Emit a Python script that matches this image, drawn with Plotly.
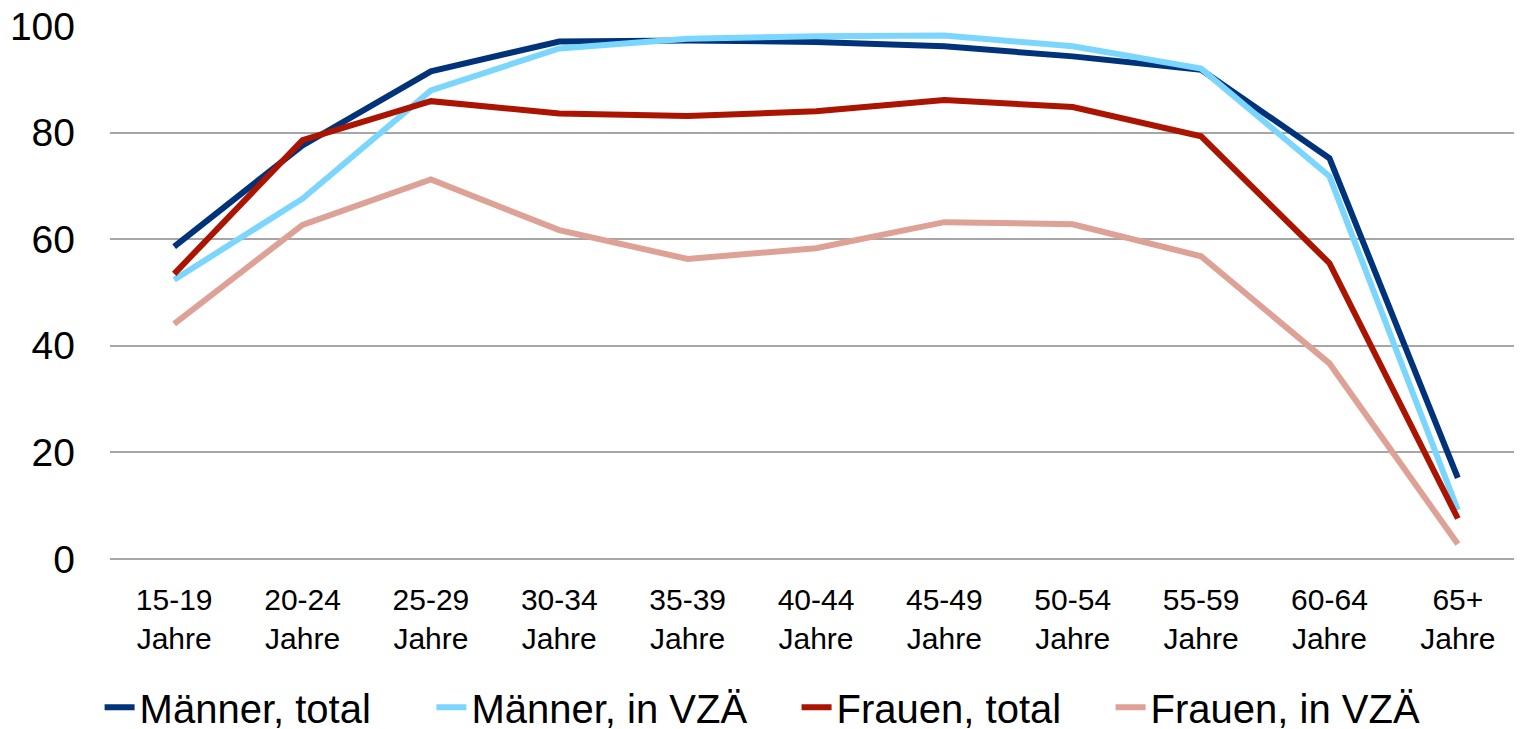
import plotly.graph_objects as go

categories = ["15-19<br>Jahre", "20-24<br>Jahre", "25-29<br>Jahre", "30-34<br>Jahre",
              "35-39<br>Jahre", "40-44<br>Jahre", "45-49<br>Jahre", "50-54<br>Jahre",
              "55-59<br>Jahre", "60-64<br>Jahre", "65+<br>Jahre"]

maenner_total = [58.6, 77.6, 91.5, 97.1, 97.3, 97.0, 96.2, 94.3, 91.8, 75.2, 15.2]
maenner_vzae = [52.4, 67.6, 87.9, 95.8, 97.6, 98.1, 98.2, 96.2, 92.0, 71.8, 9.2]
frauen_total = [53.5, 78.6, 85.9, 83.6, 83.1, 84.0, 86.1, 84.8, 79.3, 55.5, 7.6]
frauen_vzae = [44.1, 62.7, 71.2, 61.7, 56.3, 58.3, 63.2, 62.8, 56.8, 36.7, 2.8]

nb = "\u00a0"
series = [
    ("Männer, total" + nb * 5, maenner_total, "#00337a"),
    ("Männer, in VZÄ" + nb * 4, maenner_vzae, "#7bd6fd"),
    ("Frauen, total" + nb * 4, frauen_total, "#aa1400"),
    ("Frauen, in VZÄ", frauen_vzae, "#dda196"),
]

fig = go.Figure()
for name, vals, color in series:
    fig.add_trace(go.Scatter(x=categories, y=vals, name=name, mode="lines",
                             line=dict(color=color, width=6)))

fig.update_layout(
    width=1514, height=721,
    paper_bgcolor="white", plot_bgcolor="white",
    margin=dict(l=102, r=0, t=18, b=170),
    font=dict(family="Liberation Sans, Arial, sans-serif", color="black"),
    showlegend=True,
    legend=dict(orientation="h", xref="container", yref="container",
                x=0.0605, xanchor="left", y=0.03, yanchor="middle",
                font=dict(size=40), itemwidth=30, tracegroupgap=0),
    xaxis=dict(showgrid=False, showline=False, zeroline=False, automargin=False,
               range=[-0.5, 10.5], tickfont=dict(size=30), ticklabelstandoff=20,
               ticklabeloverflow="allow"),
    yaxis=dict(range=[0, 100], dtick=20, showgrid=True, gridcolor="#a6a6a6", gridwidth=2,
               zeroline=True, zerolinecolor="#a6a6a6", zerolinewidth=2, automargin=False,
               showline=False, tickfont=dict(size=39), ticklabelstandoff=34,
               ticklabeloverflow="allow"),
)

fig.write_html("out.html")
